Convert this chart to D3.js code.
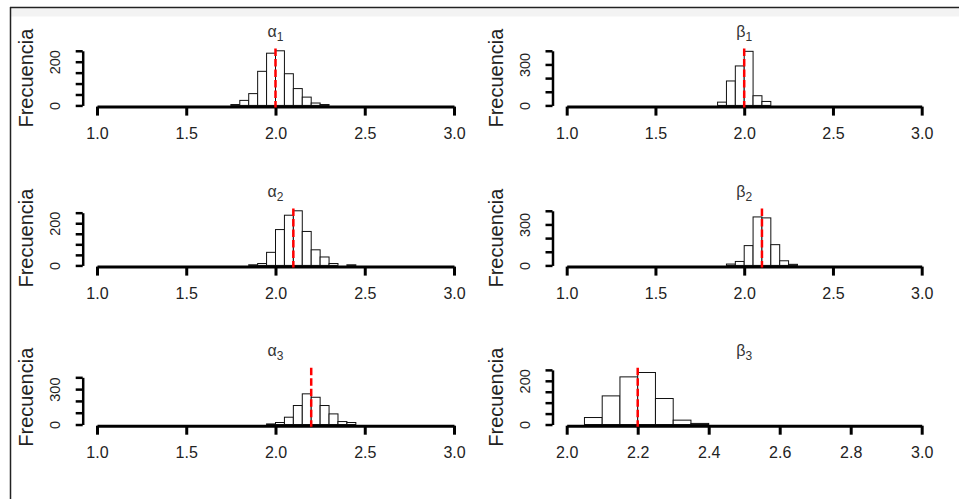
<!DOCTYPE html>
<html>
<head>
<meta charset="utf-8">
<script src="https://cdn.jsdelivr.net/npm/d3@7"></script>
<style>
  body { margin: 0; background: #fff; }
  svg { display: block; font-family: "Liberation Sans", Arial, sans-serif; }
</style>
</head>
<body>
<div class="graph"></div>
<script>
// histogram data (bin width 0.05)
var binWidth = 0.05;

var a1Edges = [1.75, 1.80, 1.85, 1.90, 1.95, 2.00, 2.05, 2.10, 2.15, 2.20, 2.25];
var a1Counts = [4, 23, 54, 156, 239, 250, 145, 77, 38, 11, 4];

var a2Edges = [1.85, 1.90, 1.95, 2.00, 2.05, 2.10, 2.15, 2.20, 2.25, 2.30, 2.35, 2.40];
var a2Counts = [3, 9, 62, 170, 238, 259, 161, 74, 40, 9, 0, 3];

var a3Edges = [1.95, 2.00, 2.05, 2.10, 2.15, 2.20, 2.25, 2.30, 2.35, 2.40];
var a3Counts = [5, 17, 62, 161, 260, 231, 161, 90, 25, 17];

var b1Edges = [1.85, 1.90, 1.95, 2.00, 2.05, 2.10];
var b1Counts = [24, 179, 289, 396, 71, 29];

var b2Edges = [1.90, 1.95, 2.00, 2.05, 2.10, 2.15, 2.20, 2.25];
var b2Counts = [10, 29, 145, 355, 348, 152, 34, 8];

var b3Edges = [2.05, 2.10, 2.15, 2.20, 2.25, 2.30, 2.35];
var b3Counts = [32, 131, 218, 238, 119, 20, 5];

// panels in row order: alpha1, beta1, alpha2, beta2, alpha3, beta3
var symbols = ['α', 'β', 'α', 'β', 'α', 'β'];
var subscripts = ['1', '1', '2', '2', '3', '3'];
var trueValues = [2.0, 2.0, 2.1, 2.1, 2.2, 2.2];
var yLimits = [250, 400, 259, 400, 463, 250];

var xTicksWide = [1.0, 1.5, 2.0, 2.5, 3.0];
var xTicksNarrow = [2.0, 2.2, 2.4, 2.6, 2.8, 3.0];
var yTicksSmall = [0, 50, 100, 150, 200, 250];
var yTicksLarge = [0, 100, 200, 300, 400];
var yLabelsSmall = [0, 200];
var yLabelsLarge = [0, 300];
var yLabel = 'Frecuencia';

var edges = [a1Edges, b1Edges, a2Edges, b2Edges, a3Edges, b3Edges];
var counts = [a1Counts, b1Counts, a2Counts, b2Counts, a3Counts, b3Counts];
var xTicks = [xTicksWide, xTicksWide, xTicksWide, xTicksWide, xTicksWide, xTicksNarrow];
var yTicks = [yTicksSmall, yTicksLarge, yTicksSmall, yTicksLarge, yTicksLarge, yTicksSmall];
var yLabels = [yLabelsSmall, yLabelsLarge, yLabelsSmall, yLabelsLarge, yLabelsLarge, yLabelsSmall];

var width = 959, height = 499;
var colLeft = [82.7, 552.5],
    colWidth = [385.6, 383.4],
    rowTop = [48.6, 208.6, 367.7],
    plotH = 59;

var svg = d3.select('.graph')
            .append('svg')
            .attr('width', width)
            .attr('height', height);

// faint band + frame of the cropped figure
svg.append('rect')
   .attr('x', 11).attr('y', 8.5)
   .attr('width', width - 11).attr('height', 8)
   .attr('fill', '#f3f3f3');

svg.append('line')
   .attr('x1', 10).attr('x2', width)
   .attr('y1', 7.5).attr('y2', 7.5)
   .attr('stroke', '#222').attr('stroke-width', 1.5);

svg.append('line')
   .attr('x1', 10.5).attr('x2', 10.5)
   .attr('y1', 7).attr('y2', height)
   .attr('stroke', '#222').attr('stroke-width', 1.5);

for (var i = 0; i < 6; i++) {
  drawPanel(i);
}

function drawPanel(i) {
  var col = i % 2, row = Math.floor(i / 2);
  var left = colLeft[col], top = rowTop[row], w = colWidth[col];
  var bottom = top + plotH;

  var xt = xTicks[i];
  var xMin = xt[0], xMax = xt[xt.length - 1], xPad = 0.04 * (xMax - xMin);
  var x = d3.scaleLinear().domain([xMin - xPad, xMax + xPad]).range([left, left + w]);

  var ym = yLimits[i];
  var y = d3.scaleLinear().domain([-0.04 * ym, 1.04 * ym]).range([bottom, top]);

  var g = svg.append('g').attr('class', 'panel');

  var bins = edges[i].map(function(e, k) { return {x0: e, x1: e + binWidth, n: counts[i][k]}; });

  g.selectAll('rect.bar')
   .data(bins)
   .enter()
   .append('rect')
   .attr('class', 'bar')
   .attr('x', function(d) { return x(d.x0); })
   .attr('width', function(d) { return x(d.x1) - x(d.x0); })
   .attr('y', function(d) { return y(d.n); })
   .attr('height', function(d) { return y(0) - y(d.n); })
   .attr('fill', '#fff')
   .attr('stroke', '#111')
   .attr('stroke-width', 1);

  // x axis, line only between first and last tick (like R)
  var xAxisScale = d3.scaleLinear().domain([xMin, xMax]).range([x(xMin), x(xMax)]);
  var xAxis = g.append('g')
               .attr('transform', 'translate(0,' + (bottom - 1) + ')')
               .call(d3.axisBottom(xAxisScale)
                       .tickValues(xt)
                       .tickSize(9)
                       .tickSizeOuter(0)
                       .tickPadding(12)
                       .tickFormat(d3.format('.1f')));
  xAxis.attr('font-family', null).attr('font-size', 16).attr('stroke-width', 3);
  xAxis.selectAll('text').attr('fill', '#222');

  // y axis
  var yt = yTicks[i];
  var shown = yLabels[i];
  var yAxisScale = d3.scaleLinear().domain([0, yt[yt.length - 1]]).range([y(0), y(yt[yt.length - 1])]);
  var yAxis = g.append('g')
               .attr('transform', 'translate(' + left + ',0)')
               .call(d3.axisLeft(yAxisScale)
                       .tickValues(yt)
                       .tickSize(7)
                       .tickSizeOuter(0)
                       .tickFormat(function(v) { return shown.indexOf(v) >= 0 ? v : ''; }));
  yAxis.attr('font-family', null).attr('font-size', 14.5).attr('stroke-width', 2.5);
  yAxis.selectAll('text')
       .attr('x', null)
       .attr('dy', null)
       .attr('fill', '#222')
       .attr('text-anchor', 'middle')
       .attr('transform', 'translate(-23,0) rotate(-90)');

  // y label
  g.append('text')
   .attr('transform', 'translate(' + (left - 50) + ',' + (top + plotH / 2) + ') rotate(-90)')
   .attr('text-anchor', 'middle')
   .attr('font-size', 20)
   .attr('fill', '#222')
   .text(yLabel);

  // title with subscript
  var title = g.append('text')
               .attr('x', left + w / 2)
               .attr('y', top - 12)
               .attr('text-anchor', 'middle')
               .attr('font-size', 16)
               .attr('fill', '#333');
  title.append('tspan').text(symbols[i]);
  title.append('tspan').attr('font-size', 12).attr('dy', 4).text(subscripts[i]);

  // true value
  g.append('line')
   .attr('x1', x(trueValues[i])).attr('x2', x(trueValues[i]))
   .attr('y1', top).attr('y2', bottom)
   .attr('stroke', '#ff0000')
   .attr('stroke-width', 2.5)
   .attr('stroke-dasharray', '7.5,3');
}
</script>
</body>
</html>
